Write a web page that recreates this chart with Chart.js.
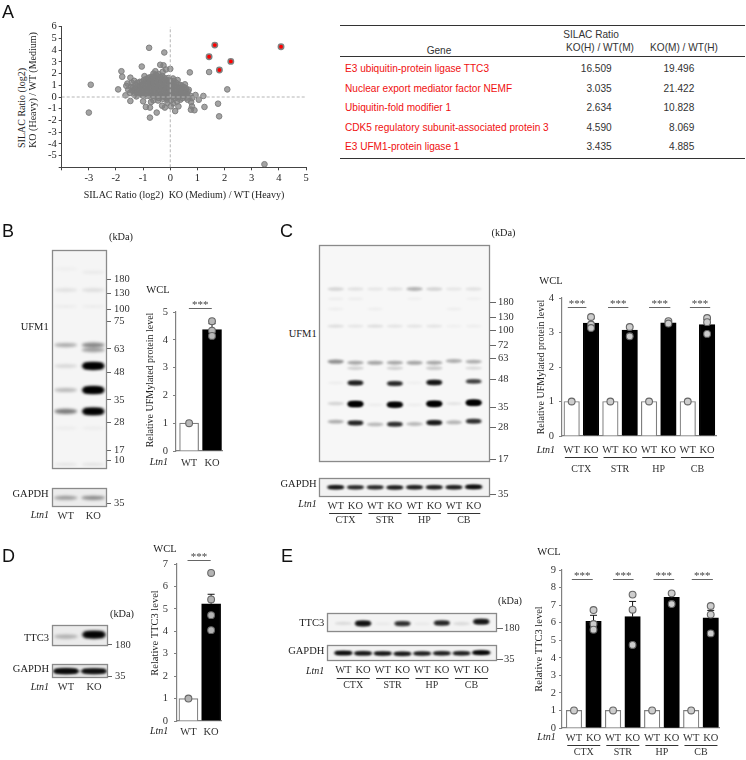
<!DOCTYPE html>
<html>
<head>
<meta charset="utf-8">
<script src="https://cdn.jsdelivr.net/npm/chart.js@4"></script>
<style>
body { margin:0; background:#fff; }
#page { position:relative; width:746px; height:760px; overflow:hidden; }
canvas { position:absolute; }
.t { position:absolute; white-space:pre; line-height:1; color:#222; }
.rule { position:absolute; background:#333; height:1px; }
</style>
</head>
<body>
<div id="page"></div>
<script>
// panel A scatter
const greyPoints = [
[-3,-1.33],[-2.93,1.05],[-1.92,0.65],[-1.8,2.2],[-1.77,1.73],[-1.65,0.14],[-1.47,-0.34],[-1.47,1.65],[-1.05,2.6],[-0.78,4.2],
[-0.22,3.8],[-0.37,2.75],[-0.25,2.7],[0,2.4],[-0.55,2.2],[-0.28,2.15],[-0.16,2.35],[0.72,2.1],[1.43,2.13],[2.1,0.65],
[1.76,-0.57],[1.8,-1.65],[3.47,-5.74],[1.26,-0.85],[1.22,0.09],[1.05,-0.23],[0.93,0.17],[0.76,-1.08],[0.89,-1.13],[0.77,-0.43],
[0.8,-0.8],[-0.75,-1.76],[-0.5,-1.33],[-0.9,-0.85],[-0.75,-0.9],[-1,-0.37],[-0.71,-0.43],[-0.3,-0.74],[-0.2,-0.9],[0.02,-0.8],
[0.18,-1.2],[0.3,-0.8],[0.37,-0.23],[0.64,-0.23],
[-1.62,0.95],[-1.55,0.62],[-1.58,1.15],[-1.48,0.35],[-1.45,0.85],[-1.42,1.22],[-1.4,0.55],
[-1.32,0.18],[-1.3,0.72],[-1.28,1.05],[-1.25,0.42],[-1.33,1.38],
[-1.18,0.22],[-1.15,0.6],[-1.13,0.95],[-1.12,1.3],[-1.1,0.38],[-1.16,0.8],
[-1.02,0.14],[-1,0.5],[-0.98,0.78],[-1,1.1],[-0.97,1.45],[-0.95,1.78],[-1.03,0.33],
[-0.88,0.1],[-0.85,0.36],[-0.86,0.62],[-0.84,0.88],[-0.87,1.15],[-0.83,1.38],[-0.82,1.62],
[-0.72,0.02],[-0.7,0.28],[-0.71,0.52],[-0.69,0.8],[-0.7,1.02],[-0.68,1.28],[-0.72,1.55],[-0.66,1.75],
[-0.56,0.05],[-0.55,0.3],[-0.57,0.58],[-0.54,0.84],[-0.55,1.1],[-0.53,1.35],[-0.58,1.6],[-0.52,1.9],
[-0.42,-0.08],[-0.4,0.18],[-0.41,0.45],[-0.39,0.7],[-0.4,0.95],[-0.38,1.2],[-0.42,1.45],[-0.37,1.7],[-0.43,1.95],
[-0.27,-0.15],[-0.25,0.12],[-0.26,0.38],[-0.24,0.62],[-0.25,0.88],[-0.23,1.15],[-0.27,1.4],[-0.22,1.65],
[-0.12,-0.22],[-0.1,0.05],[-0.11,0.32],[-0.09,0.58],[-0.1,0.85],[-0.08,1.1],[-0.12,1.35],[-0.07,1.62],
[0.03,-0.28],[0.05,0.02],[0.04,0.28],[0.06,0.55],[0.05,0.8],[0.07,1.05],[0.03,1.3],[0.1,1.58],
[0.18,-0.1],[0.2,0.14],[0.19,0.4],[0.21,0.65],[0.2,0.9],[0.22,1.2],[0.27,1.45],
[0.33,0.02],[0.35,0.28],[0.34,0.52],[0.36,0.78],[0.38,1.02],
[0.48,0.1],[0.5,0.34],[0.52,0.6],[0.5,0.85],[0.54,1.08],[0.62,0.25],[0.65,0.48],[0.68,0.62],
[-0.62,2],[-1.25,0.05],[-0.62,-0.28],[-0.45,-0.3],[-0.1,-0.5],[0.1,-0.55],[0.25,-0.38],[0.45,-0.1],[0.75,0.1],[0.8,-0.1],[0.6,-0.05],
[-1.38,0.8],[-1.35,0.5],[-1.22,0.9],[-1.2,0.55],[-1.22,1.2],[-1.08,0.7],[-1.07,1.02],[-1.06,0.24],[-1.05,1.28],
[-0.93,0.25],[-0.92,0.5],[-0.91,0.72],[-0.93,1.0],[-0.9,1.28],[-0.9,1.52],
[-0.78,0.18],[-0.77,0.42],[-0.78,0.68],[-0.76,0.95],[-0.77,1.18],[-0.76,1.42],[-0.75,1.68],
[-0.63,0.15],[-0.62,0.42],[-0.63,0.7],[-0.62,0.95],[-0.61,1.2],[-0.62,1.45],[-0.6,1.72],
[-0.48,0.08],[-0.47,0.32],[-0.48,0.58],[-0.47,0.82],[-0.46,1.05],[-0.47,1.28],[-0.48,1.55],[-0.47,1.78],
[-0.33,0.02],[-0.32,0.28],[-0.33,0.55],[-0.32,0.8],[-0.31,1.05],[-0.32,1.3],[-0.33,1.55],[-0.3,1.8],
[-0.18,-0.05],[-0.17,0.22],[-0.18,0.48],[-0.17,0.75],[-0.16,1.0],[-0.17,1.25],[-0.18,1.5],
[-0.03,-0.1],[-0.02,0.18],[-0.03,0.42],[-0.02,0.68],[-0.01,0.95],[-0.02,1.2],[-0.02,1.45],
[0.12,0.08],[0.12,0.34],[0.13,0.6],[0.12,0.85],[0.14,1.12],[0.14,1.38],
[0.27,0.05],[0.27,0.28],[0.28,0.52],[0.28,0.78],[0.3,1.05],
[0.42,0.2],[0.42,0.45],[0.43,0.68],[0.44,0.92],[0.57,0.2],[0.58,0.42],[0.58,0.72]
];
const redPoints = [[1.64,4.43],[1.43,3.44],[2.23,3.04],[1.81,2.3],[4.08,4.29]];
const scatterXTicks = [-4,-3,-2,-1,0,1,2,3,4,5];
const scatterYTicks = [-6,-5,-4,-3,-2,-1,0,1,2,3,4,5,6];

// panel A table
const geneNames = ['E3 ubiquitin-protein ligase TTC3','Nuclear export mediator factor NEMF','Ubiquitin-fold modifier 1','CDK5 regulatory subunit-associated protein 3','E3 UFM1-protein ligase 1'];
const ratioHM = ['16.509','3.035','2.634','4.590','3.435'];
const ratioMH = ['19.496','21.422','10.828','8.069','4.885'];

// bar panels
const twoCats = ['WT','KO'];
const eightCats = ['WT','KO','WT','KO','WT','KO','WT','KO'];
const regions = ['CTX','STR','HP','CB'];

const bMeans = [1,4.37];
const bErrTop = [null,4.58];
const bPoints = [[1],[4.67,4.33,4.14]];

const cMeans = [1,3.27,1,3.07,1,3.28,1,3.23];
const cErrTop = [null,3.4,null,3.17,null,3.33,null,3.38];
const cPoints = [[1],[3.45,3.23,3.13],[1],[3.16,2.89],[1],[3.33,3.26],[1],[3.42,3.3,2.96]];

const dMeans = [1,5.22];
const dErrTop = [null,5.65];
const dPoints = [[1],[6.6,5.42,4.72,4.05]];

const eMeans = [1,6.08,1,6.34,1,7.44,1,6.27];
const eErrTop = [null,6.42,null,7.21,null,7.6,null,6.7];
const ePoints = [[1],[6.72,5.92,5.6],[1],[7.6,6.74,4.73],[1],[7.67,7.06],[1],[6.95,6.46,5.39]];

// blot bands: [lane, migration % of the membrane, darkness 0-1]
const bLadder = [13.2,19.8,26.8,32.3,44.9,55.8,68.2,78.6,91.2,95.7];
const bLadderKda = ['180','130','100','75','63','48','35','28','17','10'];
const bBands = [[0,8.5,.03],[1,10,.05],[0,18.1,.09],[1,18.1,.1],[0,25.6,.04],[1,25.6,.04],[0,43.2,.3],[1,43.2,.45],[1,45.4,.35],
[0,52.7,.13],[1,52.7,1],[0,63.7,.25],[1,63.7,1],[0,73.4,.5],[1,73.4,.95],[0,81,.04],[1,81,.04],[0,97.6,.07],[1,97.6,.08]];
const bGapdh = [[0,51,.35],[1,51,.42]];

const cLadder = [26.1,33,39.1,45.9,51.9,61.7,74.6,83.8,98.4];
const cLadderKda = ['180','130','100','72','63','48','35','28','17'];
const cBands = [
[0,20.1,.14],[1,20.1,.09],[2,20.1,.07],[3,20.1,.09],[4,20.1,.28],[5,20.1,.15],[6,20.1,.07],[7,20.1,.09],
[0,37.2,.1],[1,37.2,.07],[2,37.2,.1],[3,37.2,.08],[4,37.2,.08],[5,37.2,.08],[6,37.2,.03],[7,37.2,.04],
[0,24.6,.04],[1,24.6,.04],[4,24.6,.03],[7,24.6,.03],[0,29.3,.04],[2,29.3,.04],[6,29.3,.04],
[0,53.5,.42],[1,54,.32],[2,54,.33],[3,54,.32],[4,54,.33],[5,54,.32],[6,53.2,.3],[7,53.5,.3],
[1,56.5,.16],[3,56.5,.16],[5,56.5,.18],[7,56.5,.12],
[1,63.3,.68],[3,63.6,.63],[5,63.1,.75],[7,62.6,.52],[0,63.3,.04],[4,63.3,.03],
[0,72.8,.14],[1,73,1],[2,73.4,.04],[3,73.3,.95],[4,73.4,.04],[5,72.9,1],[6,72.8,.08],[7,72.4,1],
[0,81.1,.3],[1,81.7,.65],[2,82.4,.25],[3,82.3,.6],[4,82.2,.25],[5,81.6,.72],[6,81.4,.27],[7,80.9,.6]];
const cGapdh = [[0,48,.75],[1,48,.65],[2,48,.65],[3,49,.7],[4,48,.7],[5,48,.7],[6,48,.7],[7,46,.82]];

const dLadder = [91];
const dLadderKda = ['180'];
const dBands = [[0,52.7,.26],[1,43.6,.9]];
const dGapdh = [[0,50,.8],[1,50,.75]];

const eLadder = [78];
const eLadderKda = ['180'];
const eBands = [[0,52,.1],[1,52,.75],[2,54,.04],[3,53,.58],[4,54,.04],[5,50,.62],[6,53,.1],[7,43,.72]];
const eGapdh = [[0,49,.82],[1,51,.75],[2,52,.75],[3,54,.75],[4,52,.7],[5,51,.7],[6,51,.7],[7,47,.88]];
const gapdhLadder = ['35'];

const SERIF = '"Liberation Serif"';
const SANS = '"Liberation Sans"';
Chart.defaults.responsive = false;
Chart.defaults.animation = false;
Chart.defaults.plugins.legend.display = false;
Chart.defaults.plugins.tooltip.enabled = false;
Chart.defaults.font.family = SERIF;
Chart.defaults.color = '#222';

const page = document.getElementById('page');

function label(text, x, y, o) {
    o = o || {};
    const d = document.createElement('div');
    d.className = 't';
    d.textContent = text;
    d.style.left = x + 'px';
    d.style.top = y + 'px';
    d.style.fontFamily = o.font || SERIF;
    d.style.fontSize = (o.size || 10) + 'px';
    if (o.italic) d.style.fontStyle = 'italic';
    if (o.color) d.style.color = o.color;
    const shift = o.align === 'r' ? '-100%' : o.align === 'l' ? '0' : '-50%';
    d.style.transform = 'translate(' + shift + ',-50%)' + (o.rot ? ' rotate(-90deg)' : '');
    page.appendChild(d);
}

function rule(x1, x2, y) {
    const d = document.createElement('div');
    d.className = 'rule';
    d.style.left = x1 + 'px';
    d.style.width = (x2 - x1) + 'px';
    d.style.top = y + 'px';
    page.appendChild(d);
}

function addCanvas(l, t, w, h) {
    const c = document.createElement('canvas');
    c.width = w;
    c.height = h;
    c.style.left = l + 'px';
    c.style.top = t + 'px';
    page.appendChild(c);
    return c;
}

function groupsPlugin(o) {
    return {
        id: 'groups',
        afterDraw(chart) {
            if (!o.groups) return;
            const ctx = chart.ctx, sx = chart.scales.x, base = chart.chartArea.bottom;
            ctx.save();
            ctx.font = '10px ' + SERIF;
            ctx.textAlign = 'center';
            ctx.textBaseline = 'middle';
            o.groups.forEach((g, i) => {
                const mid = sx.getPixelForValue(2 * i + 0.5);
                ctx.strokeStyle = '#333';
                ctx.lineWidth = 1;
                ctx.beginPath();
                ctx.moveTo(mid - 16.5, Math.round(base + o.lineDy) + 0.5);
                ctx.lineTo(mid + 16.5, Math.round(base + o.lineDy) + 0.5);
                ctx.stroke();
                ctx.fillStyle = '#333';
                ctx.fillText(g, mid, base + o.textDy);
            });
            ctx.restore();
        }
    };
}

// ---- scatter A
function drawScatter() {
    const left = 28, top = 15, w = 292, h = 176;
    new Chart(addCanvas(left, top, w, h), {
        type: 'scatter',
        data: { datasets: [
            { type:'line', data:[{x:0,y:-6},{x:0,y:6}], borderColor:'#b5b5b5', borderWidth:1, borderDash:[3,2], pointRadius:0 },
            { type:'line', data:[{x:-4,y:0},{x:5,y:0}], borderColor:'#b5b5b5', borderWidth:1, borderDash:[3,2], pointRadius:0 },
            { data: redPoints.map(p => ({x:p[0], y:p[1]})), backgroundColor:'#ff0000', borderColor:'#808080', borderWidth:1.5, pointRadius:2.7 },
            { data: greyPoints.map(p => ({x:p[0], y:p[1]})), backgroundColor:'rgba(128,128,128,.72)', borderColor:'#808080', borderWidth:1, pointRadius:2.8 }
        ]},
        options: {
            layout: { padding: { left:0, top:11.7, right:14, bottom:0 } },
            scales: {
                x: {
                    type:'linear', min:-4, max:5,
                    afterBuildTicks: s => { s.ticks = scatterXTicks.map(v => ({value:v})); },
                    afterFit: s => { s.height = 23.7; },
                    ticks: { callback: v => v === -4 ? '' : v, font:{size:10.5}, padding:2, autoSkip:false, maxRotation:0 },
                    grid: { drawOnChartArea:false, tickLength:3, color:'#444' },
                    border: { color:'#444' }
                },
                y: {
                    type:'linear', min:-6, max:6,
                    afterBuildTicks: s => { s.ticks = scatterYTicks.map(v => ({value:v})); },
                    afterFit: s => { s.width = 33.7; },
                    ticks: { callback: v => v === -6 ? '' : v, font:{size:10.5}, padding:2, autoSkip:false },
                    grid: { drawOnChartArea:false, tickLength:3, color:'#444' },
                    border: { color:'#444' }
                }
            }
        }
    });
    label('SILAC Ratio (log2)', 21.5, 108, { rot:true, size:10 });
    label('KO (Heavy) / WT (Medium)', 33, 90, { rot:true, size:10 });
    label('SILAC Ratio (log2)  KO (Medium) / WT (Heavy)', 184, 194.5, { size:10 });
}

// ---- bar panels
function barPanel(o) {
    const padTop = 16, axisW = 22, below = 44, padRight = 4;
    const l = o.axisX - axisW, t = o.top - padTop;
    const w = o.right - l + padRight, h = o.bottom - t + below;
    const flat = [];
    o.points.forEach((list, i) => list.forEach(v => flat.push({ x:i, y:v })));
    const errs = {
        id: 'errs',
        beforeDatasetDraw(chart, args) {
            if (args.index !== 0) return;
            const ctx = chart.ctx, sx = chart.scales.x, sy = chart.scales.y;
            ctx.save();
            ctx.strokeStyle = '#111';
            ctx.lineWidth = 1;
            o.errTop.forEach((v, i) => {
                if (v === null) return;
                const x = sx.getPixelForValue(i), y = sy.getPixelForValue(v);
                ctx.beginPath();
                ctx.moveTo(x, sy.getPixelForValue(o.means[i]));
                ctx.lineTo(x, y);
                ctx.moveTo(x - 3.5, y);
                ctx.lineTo(x + 3.5, y);
                ctx.stroke();
            });
            ctx.restore();
        }
    };
    const stars = {
        id: 'stars',
        afterDraw(chart) {
            const ctx = chart.ctx, sx = chart.scales.x, sy = chart.scales.y;
            ctx.save();
            o.brackets.forEach(b => {
                const y = Math.round(sy.getPixelForValue(o.bracketY)) + 0.5;
                const x1 = sx.getPixelForValue(b[0]), x2 = sx.getPixelForValue(b[1]);
                ctx.strokeStyle = '#666';
                ctx.lineWidth = 1;
                ctx.beginPath();
                ctx.moveTo(x1, y);
                ctx.lineTo(x2, y);
                ctx.stroke();
                ctx.fillStyle = '#444';
                ctx.font = '11px ' + SERIF;
                ctx.textAlign = 'center';
                ctx.textBaseline = 'middle';
                ctx.fillText('***', (x1 + x2) / 2, y - 3);
            });
            ctx.restore();
        }
    };
    new Chart(addCanvas(l, t, w, h), {
        type: 'bar',
        data: { datasets: [
            { type:'scatter', data:flat, backgroundColor:o.pointFill, borderColor:'#666', borderWidth:1.1, pointRadius:3.4 },
            { type:'bar', data:o.means.map((v, i) => ({x:i, y:v})), barThickness:o.barW,
              backgroundColor:o.cats.map(c => c === 'WT' ? '#fff' : '#000'),
              borderColor:o.cats.map(c => c === 'WT' ? '#7f7f7f' : '#000'), borderWidth:1.2 }
        ]},
        options: {
            layout: { padding: { left:0, top:padTop, right:padRight, bottom:0 } },
            scales: {
                x: {
                    type:'linear', min:o.xMin, max:o.xMax, offset:false,
                    afterBuildTicks: s => { s.ticks = o.cats.map((c, i) => ({value:i})); },
                    afterFit: s => { s.height = below; },
                    ticks: { callback: v => o.cats[v], font:{size:10.5}, padding:o.xPad, autoSkip:false, maxRotation:0, color:'#333' },
                    grid: { display:false, drawTicks:false },
                    border: { color:'#808080', width:1.2 }
                },
                y: {
                    min:0, max:o.yMax,
                    afterFit: s => { s.width = axisW; },
                    ticks: { stepSize:1, font:{size:10.5}, padding:o.yPad, color:'#333' },
                    grid: { drawOnChartArea:false, tickLength:3, color:'#808080' },
                    border: { color:'#808080', width:1.2 }
                }
            }
        },
        plugins: [errs, stars, groupsPlugin(o)]
    });
}

// ---- blots
function blot(o) {
    const padL = 2, padT = 2, rightW = o.rightW || 36;
    const below = o.below || 0;
    const l = o.l - padL, t = o.t - padT;
    const w = o.r - o.l + padL + rightW, h = o.b - o.t + padT + (below || 2);
    const bands = {
        id: 'bands',
        beforeDatasetsDraw(chart) {
            const ctx = chart.ctx, a = chart.chartArea, sx = chart.scales.x, sy = chart.scales.y;
            ctx.save();
            ctx.beginPath();
            ctx.rect(a.left, a.top, a.width, a.height);
            ctx.clip();
            ctx.fillStyle = o.bg;
            ctx.fillRect(a.left, a.top, a.width, a.height);
            ctx.filter = 'blur(' + o.blur + 'px)';
            o.bands.forEach(b => {
                const th = 1.4 + b[2] * o.thick;
                ctx.fillStyle = 'rgba(0,0,0,' + b[2] + ')';
                ctx.beginPath();
                ctx.ellipse(sx.getPixelForValue(b[0]), sy.getPixelForValue(b[1]), o.bandW / 2, th / 2 + 0.8, 0, 0, Math.PI * 2);
                ctx.fill();
                if (b[2] > 0.5) {
                    ctx.fillRect(sx.getPixelForValue(b[0]) - o.bandW * 0.4, sy.getPixelForValue(b[1]) - th / 2, o.bandW * 0.8, th);
                }
            });
            ctx.restore();
        },
        afterDraw(chart) {
            const ctx = chart.ctx, a = chart.chartArea;
            ctx.save();
            ctx.strokeStyle = '#8a8a8a';
            ctx.lineWidth = 1.3;
            ctx.strokeRect(Math.round(a.left) + 0.5, Math.round(a.top) + 0.5, Math.round(a.width) - 1, Math.round(a.height) - 1);
            ctx.restore();
        }
    };
    new Chart(addCanvas(l, t, w, h), {
        type: 'scatter',
        data: { datasets: [{ data:o.bands.map(b => ({x:b[0], y:b[1]})), pointRadius:0 }] },
        options: {
            layout: { padding: { left:padL, top:padT, right:0, bottom: below ? 0 : 2 } },
            scales: {
                x: {
                    type:'linear', min:o.xMin, max:o.xMax, display: !!o.cats,
                    afterBuildTicks: s => { s.ticks = (o.cats || []).map((c, i) => ({value:i})); },
                    afterFit: s => { s.height = below; },
                    ticks: { callback: v => o.cats[v], font:{size:10.5}, padding:3, autoSkip:false, maxRotation:0, color:'#333' },
                    grid: { display:false, drawTicks:false },
                    border: { display:false }
                },
                y: {
                    type:'linear', position:'right', reverse:true, min:0, max:100,
                    afterBuildTicks: s => { s.ticks = o.ladder.map(v => ({value:v})); },
                    afterFit: s => { s.width = rightW; },
                    ticks: { callback: (v, i) => o.kda[i], font:{size:10.5}, padding:o.tickPad || 2, autoSkip:false, color:'#333' },
                    grid: { drawOnChartArea:false, tickLength:o.tickLen || 5, color:'#666' },
                    border: { display:false }
                }
            }
        },
        plugins: [bands, groupsPlugin(o)]
    });
}

function drawTable() {
    rule(340, 744.5, 25);
    rule(340, 744.5, 56);
    rule(340, 744.5, 158);
    const f = { font:SANS, size:10.1, color:'#333' };
    label('Gene', 439, 50.7, f);
    label('SILAC Ratio', 591, 35.3, f);
    label('KO(H) / WT(M)', 600, 47.7, f);
    label('KO(M) / WT(H)', 684, 47.7, f);
    const rows = [69.3, 88.7, 108.3, 127.7, 146.7];
    geneNames.forEach((g, i) => {
        label(g, 345, rows[i], { font:SANS, size:10.1, align:'l', color:'#f01010' });
        label(ratioHM[i], 611.7, rows[i], { font:SANS, size:10.1, align:'r', color:'#333' });
        label(ratioMH[i], 694.3, rows[i], { font:SANS, size:10.1, align:'r', color:'#333' });
    });
}

drawScatter();
drawTable();

// panel B
blot({ l:51.7, r:107.3, t:243.3, b:477.3, xMin:-0.5, xMax:1.5, bands:bBands, bg:'#f5f5f5', blur:1.5, thick:4.5, bandW:23, ladder:bLadder, kda:bLadderKda, tickLen:4, tickPad:3 });
blot({ l:51.7, r:107.3, t:480.7, b:507.3, xMin:-0.5, xMax:1.5, bands:bGapdh, bg:'#ececec', blur:1.4, thick:3, bandW:24, ladder:[79], kda:gapdhLadder, tickLen:4, tickPad:3, cats:twoCats, below:15 });
barPanel({ axisX:175.7, right:224, top:311.7, bottom:451, xMin:-0.572, xMax:1.475, yMax:5, cats:twoCats, means:bMeans, errTop:bErrTop, points:bPoints, barW:19, xPad:6, yPad:5, pointFill:'#b8b8b8', brackets:[[-0.01,0.99]], bracketY:5.13 });
label('B', 2, 231, { font:SANS, size:18, align:'l', color:'#111' });
label('(kDa)', 121, 237, { size:10.3 });
label('UFM1', 48.7, 326.7, { align:'r', size:10.5 });
label('GAPDH', 48.7, 494.3, { align:'r', size:10.5 });
label('Ltn1', 49, 515, { align:'r', italic:true, size:10 });
label('WCL', 158, 290, { size:10.5 });
label('Relative UFMylated protein level', 150, 380, { rot:true });
label('Ltn1', 168, 461.7, { align:'r', italic:true, size:10 });

// panel C
blot({ l:319.3, r:490.3, t:239.3, b:469.3, xMin:-0.85, xMax:7.83, bands:cBands, bg:'#f7f7f7', blur:1.3, thick:3.2, bandW:16.5, ladder:cLadder, kda:cLadderKda, tickLen:6, tickPad:2 });
blot({ l:319.3, r:490.3, t:471.7, b:496.7, xMin:-0.85, xMax:7.83, bands:cGapdh, bg:'#f2f2f2', blur:1, thick:2, bandW:18, ladder:[84], kda:gapdhLadder, tickLen:6, tickPad:2, cats:eightCats, below:28, groups:regions, lineDy:15.5, textDy:23 });
barPanel({ axisX:562.4, right:720.2, top:298.3, bottom:437, xMin:-0.5, xMax:7.5, yMax:4, cats:eightCats, means:cMeans, errTop:cErrTop, points:cPoints, barW:15.5, xPad:8, yPad:5, pointFill:'#cdcdcd', brackets:[[-0.2,0.76],[1.88,2.93],[4,5.1],[6.11,7.16]], bracketY:3.74, groups:regions, lineDy:21, textDy:33 });
label('C', 280, 231, { font:SANS, size:18, align:'l', color:'#111' });
label('(kDa)', 503.5, 233, { size:10.3 });
label('UFM1', 316.7, 334, { align:'r', size:10.5 });
label('GAPDH', 316.7, 484.3, { align:'r', size:10.5 });
label('Ltn1', 316.7, 504, { align:'r', italic:true, size:10 });
label('WCL', 551, 280.7, { size:10.5 });
label('Relative UFMylated protein level', 540.5, 367, { rot:true });
label('Ltn1', 555, 450, { align:'r', italic:true, size:10 });

// panel D
blot({ l:51.7, r:108.3, t:618.3, b:655, xMin:-0.5, xMax:1.5, bands:dBands, bg:'#ebebeb', blur:1.8, thick:5, bandW:24, ladder:dLadder, kda:dLadderKda, tickLen:4, tickPad:3 });
blot({ l:51.7, r:108.3, t:657.3, b:679, xMin:-0.5, xMax:1.5, bands:dGapdh, bg:'#e4e4e4', blur:1.3, thick:4, bandW:27, ladder:[88], kda:gapdhLadder, tickLen:4, tickPad:3, cats:twoCats, below:15 });
barPanel({ axisX:177.3, right:224, top:563.7, bottom:721, xMin:-0.504, xMax:1.475, yMax:7, cats:twoCats, means:dMeans, errTop:dErrTop, points:dPoints, barW:19, xPad:5, yPad:6, pointFill:'#b4b4b4', brackets:[[-0.04,0.98]], bracketY:7.17 });
label('D', 2, 556, { font:SANS, size:18, align:'l', color:'#111' });
label('(kDa)', 122, 613.7, { size:10.3 });
label('TTC3', 49, 638.3, { align:'r', size:10.5 });
label('GAPDH', 49, 669, { align:'r', size:10.5 });
label('Ltn1', 49, 686.7, { align:'r', italic:true, size:10 });
label('WCL', 165, 549.3, { size:10.5 });
label('Relative TTC3 level', 155.3, 633, { rot:true, size:10.5 });
label('Ltn1', 168.3, 730.7, { align:'r', italic:true, size:10 });

// panel E
blot({ l:326.7, r:496.7, t:607.7, b:637.7, xMin:-0.83, xMax:7.8, bands:eBands, bg:'#f3f3f3', blur:1.3, thick:4, bandW:17, ladder:eLadder, kda:eLadderKda, tickLen:6, tickPad:1 });
blot({ l:326.7, r:496.7, t:640.3, b:662, xMin:-0.83, xMax:7.8, bands:eGapdh, bg:'#f2f2f2', blur:1, thick:2, bandW:19, ladder:[88], kda:gapdhLadder, tickLen:6, tickPad:1, cats:eightCats, below:30, groups:regions, lineDy:16.7, textDy:24 });
barPanel({ axisX:561.7, right:721, top:570.3, bottom:728.3, xMin:-0.614, xMax:7.47, yMax:9, cats:eightCats, means:eMeans, errTop:eErrTop, points:ePoints, barW:15.5, xPad:4, yPad:3, pointFill:'#cdcdcd', brackets:[[-0.11,0.96],[2,3.05],[4.07,5.13],[6.03,7.11]], bracketY:8.49, groups:regions, lineDy:16.7, textDy:24 });
label('E', 281, 556, { font:SANS, size:18, align:'l', color:'#111' });
label('(kDa)', 510, 601.3, { size:10.3 });
label('TTC3', 324.3, 623.3, { align:'r', size:10.5 });
label('GAPDH', 324.3, 651.3, { align:'r', size:10.5 });
label('Ltn1', 324.3, 670.7, { align:'r', italic:true, size:10 });
label('WCL', 549, 552.3, { size:10.5 });
label('Relative TTC3 level', 538.5, 649, { rot:true, size:10.5 });
label('Ltn1', 555.7, 736.7, { align:'r', italic:true, size:10 });

label('A', 2, 12, { font:SANS, size:18, align:'l', color:'#111' });
</script>
</body>
</html>
